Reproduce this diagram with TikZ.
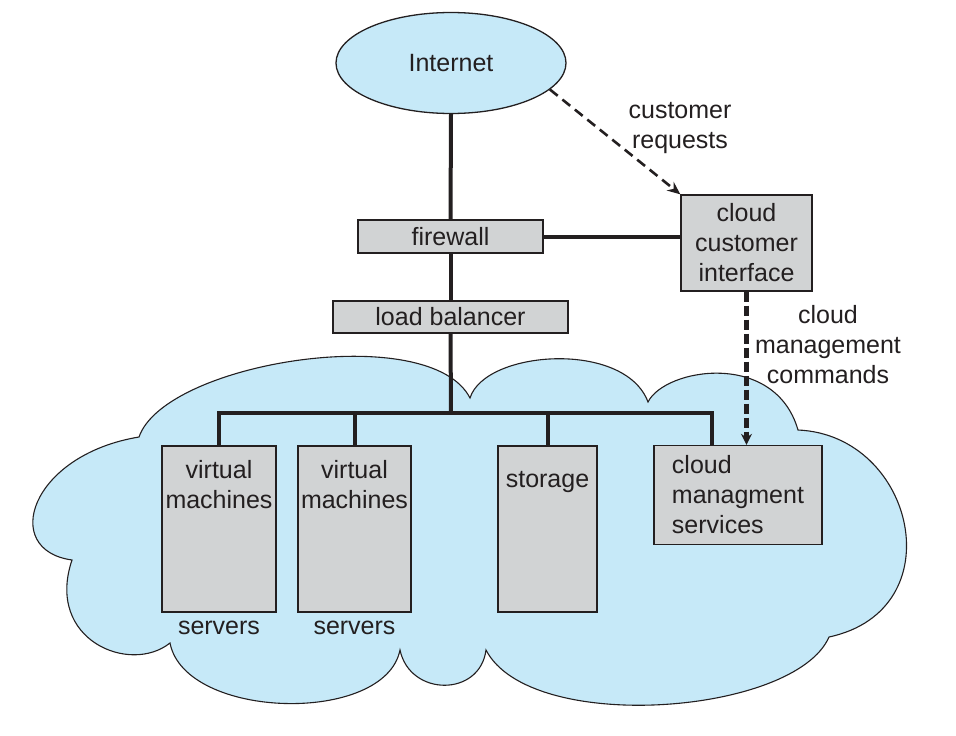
\documentclass[tikz,border=0pt]{standalone}
\usepackage{fontspec}
\setmainfont{Liberation Sans}
\usetikzlibrary{shapes.geometric,positioning,arrows.meta}
\definecolor{skyblue}{HTML}{C6E9F8}
\definecolor{boxgray}{HTML}{D1D3D4}
\definecolor{ink}{HTML}{231F20}

\begin{document}
\begin{tikzpicture}[x=1pt,y=-1pt,
    every node/.style={font=\fontsize{25}{30}\selectfont,text=ink},
    unit/.style={draw=ink,line width=1.3pt,fill=boxgray,align=center,inner sep=0pt},
    link/.style={draw=ink,line width=4pt},
    request/.style={draw=ink,line width=2.6pt,dash pattern=on 10pt off 6pt,-{Stealth[length=13pt,width=11pt]}},
    command/.style={draw=ink,line width=4.2pt,dash pattern=on 10pt off 4pt,-{Stealth[length=11pt,width=11pt]}}]
    \useasboundingbox (0,0) rectangle (956,736);
    \path[draw=ink,fill=skyblue,line width=1.1pt]
    (139,437) .. controls (165,362) and (430,320) .. (470,398)
    .. controls (485,350) and (625,340) .. (648,402)
    .. controls (665,368) and (775,350) .. (798,430)
    .. controls (915,435) and (955,610) .. (829,637)
    .. controls (795,715) and (530,735) .. (486,650)
    .. controls (480,697) and (410,697) .. (400,650)
    .. controls (385,725) and (185,720) .. (170,643)
    .. controls (130,675) and (45,640) .. (72,560)
    .. controls (0,550) and (30,455) .. cycle;
    \node[ellipse,draw=ink,line width=1.3pt,fill=skyblue,minimum width=230pt,minimum height=101pt] (internet) at (451,63) {Internet};
    \node[unit,minimum width=185pt,minimum height=33pt] (firewall) at (450.5,236.5) {firewall};
    \node[unit,minimum width=235pt,minimum height=32pt] (balancer) at (450.5,317) {load balancer};
    \node[unit,minimum width=131pt,minimum height=96pt] (interface) at (746.5,243) {cloud\\customer\\interface};
    \node[unit,minimum width=114pt,minimum height=166pt,
      label={[anchor=north,align=center,inner sep=0pt,yshift=-15pt]north:{virtual\\machines}}] (vm1) at (219,529) {};
    \node[unit,minimum width=113pt,minimum height=166pt,
      label={[anchor=north,align=center,inner sep=0pt,yshift=-15pt]north:{virtual\\machines}}] (vm2) at (354.5,529) {};
    \node[below=8pt of vm1,inner sep=0pt] (servers1) {servers};
    \node[below=8pt of vm2,inner sep=0pt] (servers2) {servers};
    \node[unit,minimum width=99pt,minimum height=166pt,
      label={[anchor=north,inner sep=0pt,yshift=-26pt]north:storage}] (storage) at (547.5,529) {};
    \node[unit,align=left,minimum width=168pt,minimum height=99pt] (services) at (738,495) {cloud\\managment\\services};
    \node[align=center] (requests) at (680,128) {customer\\requests};
    \node[align=center] (commands) at (828,345) {cloud\\management\\commands};
    \coordinate (hub) at (451,413);
    \coordinate (busend) at (712,413);
    \draw[link] (internet.south) -- (firewall.north);
    \draw[link] (firewall.south) -- (balancer.north);
    \draw[link] (balancer.south) -- (hub);
    \draw[link] (vm1.north) |- (busend) -- (busend |- services.north);
    \draw[link] (vm2.north) -- (vm2.north |- hub);
    \draw[link] (storage.north) -- (storage.north |- hub);
    \draw[link] (firewall.east) -- (firewall.east -| interface.west);
    \draw[request] (internet.-15) -- (interface.north west);
    \draw[command] (interface.south) -- (interface.south |- services.north);
\end{tikzpicture}
\end{document}
